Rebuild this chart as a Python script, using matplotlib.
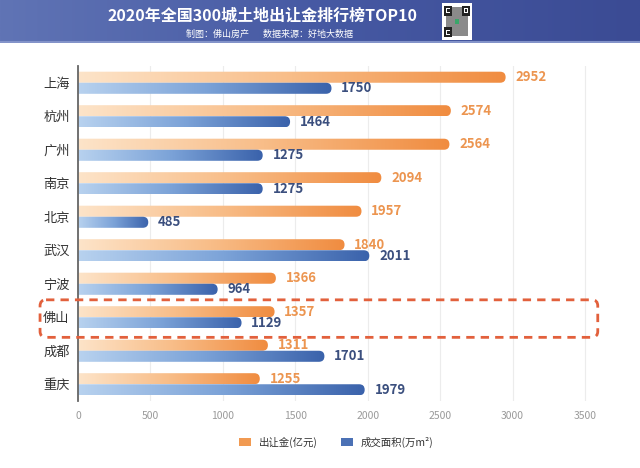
import numpy as np
import matplotlib
matplotlib.use('Agg')
import matplotlib.pyplot as plt
from matplotlib.colors import LinearSegmentedColormap
from matplotlib.patches import FancyBboxPatch, Patch, Rectangle

plt.rcParams['font.family'] = ['Noto Sans CJK SC', 'DejaVu Sans']

# data
cities = ['上海', '杭州', '广州', '南京', '北京', '武汉', '宁波', '佛山', '成都', '重庆']
land_fee = [2952, 2574, 2564, 2094, 1957, 1840, 1366, 1357, 1311, 1255]   # 出让金(亿元)
area = [1750, 1464, 1275, 1275, 485, 2011, 964, 1129, 1701, 1979]          # 成交面积(万m²)
highlight = '佛山'
xticks = [0, 500, 1000, 1500, 2000, 2500, 3000, 3500]

W, H = 640, 468
fig = plt.figure(figsize=(W / 100, H / 100), dpi=100)

# header band
hax = fig.add_axes([0, 1 - 43 / H, 1, 43 / H])
head_cm = LinearSegmentedColormap.from_list('head', ['#6074b5', '#4659a3', '#3b4b94'])
hax.imshow(np.linspace(0, 1, 256).reshape(1, -1), cmap=head_cm, aspect='auto',
           extent=(0, 1, 0, 1))
hax.axhline(0.02, color='#8393c9', lw=1.5)
hax.set_xlim(0, 1)
hax.set_ylim(0, 1)
hax.axis('off')
fig.text(262 / W, 1 - 16 / H, '2020年全国300城土地出让金排行榜TOP10', color='white',
         fontsize=11.5, fontweight='bold', ha='center', va='center')
fig.text(270 / W, 1 - 34 / H, '制图：佛山房产       数据来源：好地大数据', color='white',
         fontsize=6.5, ha='center', va='center')

# qr code placeholder
qr = fig.add_axes([442 / W, 1 - 40 / H, 30 / W, 37 / H])
qr.add_patch(Rectangle((0, 0), 1, 1, fc='white', ec='none'))
qr.add_patch(Rectangle((0.12, 0.12), 0.76, 0.76, fc='#8a8a8a', ec='none'))
for fx, fy in [(0.08, 0.66), (0.66, 0.66), (0.08, 0.08)]:
    qr.add_patch(Rectangle((fx, fy), 0.26, 0.26, fc='#222222', ec='none'))
    qr.add_patch(Rectangle((fx + 0.06, fy + 0.06), 0.14, 0.14, fc='white', ec='none'))
    qr.add_patch(Rectangle((fx + 0.09, fy + 0.09), 0.08, 0.08, fc='#222222', ec='none'))
qr.add_patch(Rectangle((0.42, 0.42), 0.16, 0.16, fc='#3aa66a', ec='none'))
qr.set_xlim(0, 1)
qr.set_ylim(0, 1)
qr.axis('off')

# main chart
XMAX = 3600
ax = fig.add_axes([78 / W, 1 - 401 / H, 521.5 / W, 335 / H])
y = np.arange(len(cities))
bh = 0.33
orange_bars = ax.barh(y - bh / 2, land_fee, height=bh, color='none')
blue_bars = ax.barh(y + bh / 2, area, height=bh, color='none')
ax.set_xlim(0, XMAX)
ax.set_ylim(len(cities) - 0.5, -0.5)

pos = ax.get_position()
pxx = pos.width * W / XMAX
pxy = pos.height * H / len(cities)
asp = pxx / pxy

orange_cm = LinearSegmentedColormap.from_list('o', ['#fde4c9', '#f8bd88', '#f08c40'])
blue_cm = LinearSegmentedColormap.from_list('b', ['#b8d2ef', '#7ca3d8', '#3a62ab'])
grad = np.linspace(0, 1, 256).reshape(1, -1)


def gradient_bars(bars, cmap):
    for rect in bars:
        x0, y0 = rect.get_x(), rect.get_y()
        w, h = rect.get_width(), rect.get_height()
        r = h / asp / 2
        shape = FancyBboxPatch((x0 - r, y0), w + r, h,
                               boxstyle=f'round,pad=0,rounding_size={r}',
                               mutation_aspect=asp, fc='none', ec='none')
        ax.add_patch(shape)
        im = ax.imshow(grad, cmap=cmap, extent=(x0, x0 + w, y0 + h, y0),
                       aspect='auto', interpolation='bicubic', zorder=2)
        im.set_clip_path(shape)


gradient_bars(orange_bars, orange_cm)
gradient_bars(blue_bars, blue_cm)

for rect, v in zip(orange_bars, land_fee):
    ax.annotate(str(v), (v, rect.get_y() + rect.get_height() / 2), xytext=(7, 0),
                textcoords='offset points', va='center', ha='left',
                fontsize=9.5, fontweight='bold', color='#ec9550', zorder=4)
for rect, v in zip(blue_bars, area):
    ax.annotate(str(v), (v, rect.get_y() + rect.get_height() / 2), xytext=(7, 0),
                textcoords='offset points', va='center', ha='left',
                fontsize=9.5, fontweight='bold', color='#3b4f7e', zorder=4)

ax.set_xlim(0, XMAX)
ax.set_ylim(len(cities) - 0.5, -0.5)
ax.set_yticks(y, cities)
ax.set_xticks(xticks)
ax.tick_params(axis='y', length=0, pad=6, labelsize=9.5, labelcolor='#333333')
ax.tick_params(axis='x', length=0, pad=7, labelsize=7.5, labelcolor='#9a9a9a')
ax.grid(axis='x', color='#ececec', lw=0.8)
ax.set_axisbelow(True)
for s in ['top', 'right', 'bottom']:
    ax.spines[s].set_visible(False)
ax.spines['left'].set_color('#666666')
ax.spines['left'].set_linewidth(1.3)

# highlight box around one city
hi = cities.index(highlight)
box_r = 6 / pxx
box = FancyBboxPatch((-262, hi - 0.52), 3850, 1.12,
                     boxstyle=f'round,pad=0,rounding_size={box_r}',
                     mutation_aspect=asp, fc='none', ec='#e2603c', lw=2,
                     linestyle=(0, (3, 2.2)), clip_on=False, zorder=5)
ax.add_patch(box)

# legend
handles = [Patch(facecolor='#f19a52', edgecolor='none', label='出让金(亿元)'),
           Patch(facecolor='#4b71b5', edgecolor='none', label='成交面积(万m²)')]
fig.legend(handles=handles, loc='center', bbox_to_anchor=(336 / W, 1 - 442 / H),
           ncol=2, frameon=False, fontsize=7.5, handlelength=1.2, handleheight=0.9,
           columnspacing=2.2, handletextpad=0.7, labelcolor='#333333')

fig.savefig('out.png', dpi=100)
